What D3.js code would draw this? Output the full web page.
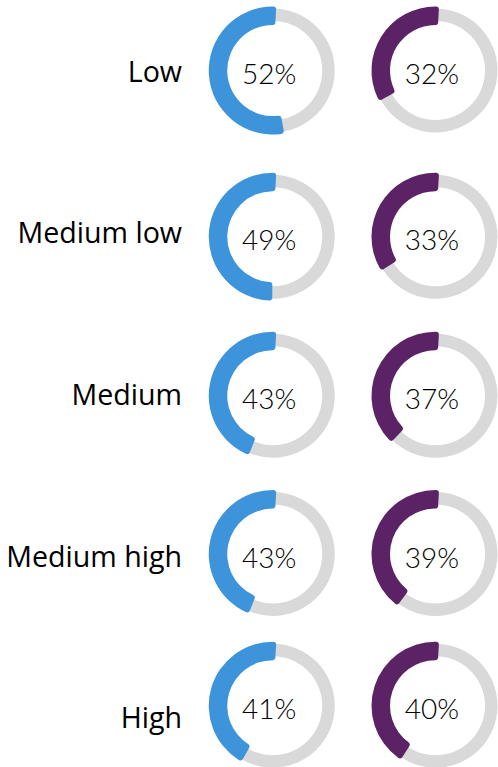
<!DOCTYPE html>
<html>
<head>
<meta charset="utf-8">
<script src="https://cdn.jsdelivr.net/npm/d3@7"></script>
<style>
  html, body { margin: 0; padding: 0; background: #fff; }
  svg { display: block; }
</style>
</head>
<body>
<div id="chart"></div>
<script>
// data
var categories = ["Low", "Medium low", "Medium", "Medium high", "High"];
var seriesNames = ["first", "second"];
var firstValues = [52, 49, 43, 43, 41];
var secondValues = [32, 33, 37, 39, 40];

var colors = { first: "#3d94da", second: "#5c2266" };
var trackColor = "#d9d9d9";

var svg = d3.select("#chart")
    .append("svg")
    .attr("width", 498)
    .attr("height", 767);

// label rows (evenly spaced text baselines)
var yLabel = d3.scalePoint()
    .domain(categories)
    .range([81.7, 728.3]);

// donut rows sit a little unevenly in the original
var yDonut = d3.scaleOrdinal()
    .domain(categories)
    .range([70.5, 236.7, 395.7, 554, 705.7]);

var xDonut = d3.scaleOrdinal()
    .domain(seriesNames)
    .range([272.75, 435.5]);

var angle = d3.scaleLinear().domain([0, 100]).range([0, 2 * Math.PI]);

var track = d3.arc()
    .innerRadius(49.5)
    .outerRadius(62)
    .startAngle(0)
    .endAngle(2 * Math.PI);

var ext = 0.055; // ends poke slightly past their angle
var valueArc = d3.arc()
    .innerRadius(45.5)
    .outerRadius(64)
    .cornerRadius(3)
    .startAngle(ext)
    .endAngle(function (d) { return -angle(d.value) - ext; });

var rows = categories.map(function (c, i) {
    return {
        category: c,
        cells: [
            { series: "first", value: firstValues[i], category: c },
            { series: "second", value: secondValues[i], category: c }
        ]
    };
});

// row labels
svg.selectAll(".label")
    .data(categories)
    .enter().append("text")
    .attr("class", "label")
    .attr("x", 182)
    .attr("y", function (d) { return yLabel(d); })
    .attr("text-anchor", "end")
    .style("font-family", "'Open Sans', 'Noto Sans', sans-serif")
    .style("font-size", "28.6px")
    .style("fill", "#000")
    .text(function (d) { return d; });

var cells = svg.selectAll(".row")
    .data(rows)
    .enter().append("g")
    .attr("class", "row")
    .selectAll(".cell")
    .data(function (d) { return d.cells; })
    .enter().append("g")
    .attr("class", "cell")
    .attr("transform", function (d) {
        return "translate(" + xDonut(d.series) + "," + yDonut(d.category) + ")";
    });

cells.append("path")
    .attr("d", track)
    .attr("fill", trackColor);

cells.append("path")
    .attr("d", valueArc)
    .attr("fill", function (d) { return colors[d.series]; });

cells.append("text")
    .attr("x", -3.5)
    .attr("y", 13.5)
    .attr("text-anchor", "middle")
    .style("font-family", "Lato, 'Open Sans', sans-serif")
    .style("font-weight", 300)
    .style("font-size", "28px")
    .style("fill", "#000")
    .text(function (d) { return d.value + "%"; });
</script>
</body>
</html>
